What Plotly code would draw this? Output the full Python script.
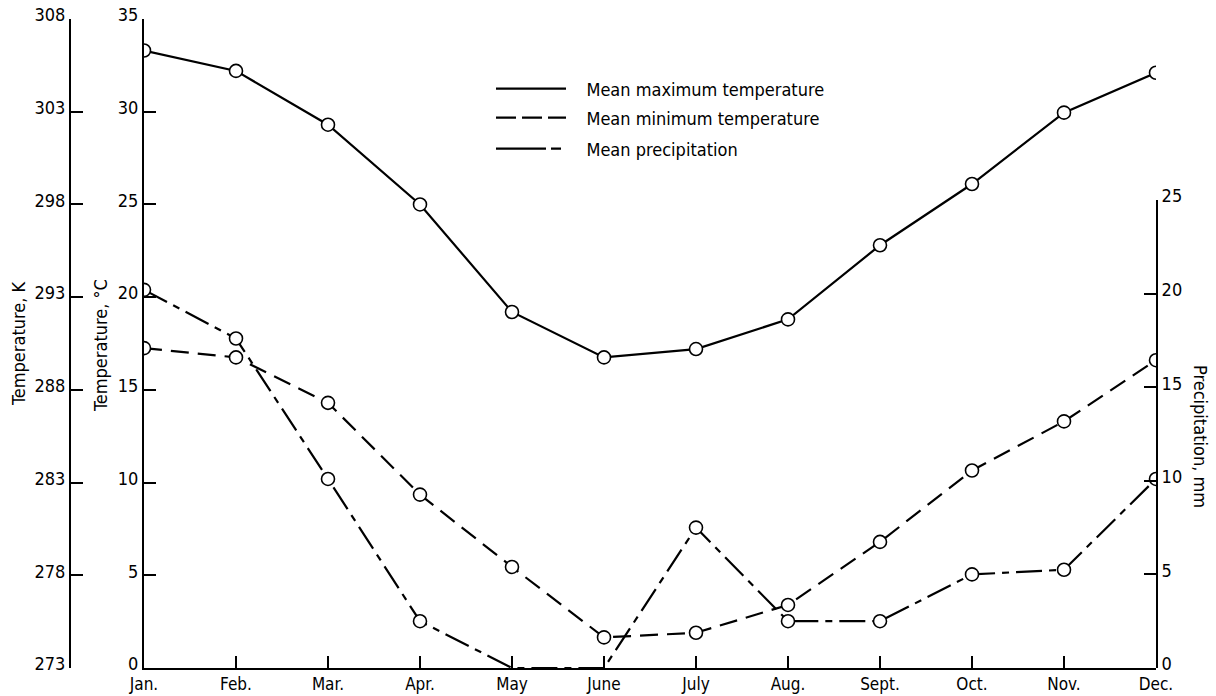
import plotly.graph_objects as go

months = ["Jan.", "Feb.", "Mar.", "Apr.", "May", "June", "July", "Aug.", "Sept.", "Oct.", "Nov.", "Dec."]
max_temp_c = [33.3, 32.2, 29.3, 25.0, 19.2, 16.75, 17.2, 18.8, 22.8, 26.1, 29.95, 32.1]
min_temp_c = [17.25, 16.75, 14.3, 9.35, 5.45, 1.65, 1.9, 3.4, 6.8, 10.65, 13.3, 16.6]
precip_mm = [20.2, 17.6, 10.1, 2.5, 0.0, 0.0, 7.5, 2.5, 2.5, 5.0, 5.25, 10.1]

celsius_ticks = [0, 5, 10, 15, 20, 25, 30, 35]
kelvin_ticks = [273, 278, 283, 288, 293, 298, 303, 308]
precip_ticks = [0, 5, 10, 15, 20, 25]

FONT = "DejaVu Sans Condensed, Liberation Sans Narrow, sans-serif"
FS = 18
W, H = 1216, 696
ML, MR, MT, MB = 60, 60, 19, 28
PW = W - ML - MR
PH = H - MT - MB


def px_x(p):
    return (p - ML) / PW


def px_y(p):
    return (H - MB - p) / PH


marker = dict(symbol="circle", size=13, color="white", line=dict(color="black", width=1.6))
fig = go.Figure()

fig.add_trace(go.Scatter(x=months, y=max_temp_c, mode="lines+markers", yaxis="y",
                         line=dict(color="black", width=2.2, dash="solid"),
                         marker=marker, showlegend=False))
fig.add_trace(go.Scatter(x=months, y=min_temp_c, mode="lines+markers", yaxis="y",
                         line=dict(color="black", width=2.2, dash="18px,9px"),
                         marker=marker, showlegend=False))
pm = dict(symbol="circle", color="white", line=dict(color="black", width=1.6),
          size=[13 if v > 0 else 0 for v in precip_mm], opacity=1)
fig.add_trace(go.Scatter(x=months, y=precip_mm, mode="lines+markers", yaxis="y3",
                         line=dict(color="black", width=2.2, dash="26px,7px,7px,7px"),
                         marker=pm, showlegend=False))

# dummy trace to make the kelvin axis render
fig.add_trace(go.Scatter(x=[None], y=[None], yaxis="y2", showlegend=False))

NB = "\u00a0\u00a0\u00a0"
legend_items = [
    ("Mean maximum temperature", "solid", "legend", 89),
    ("Mean minimum temperature", "20px,6px", "legend2", 118),
    ("Mean precipitation", "50px,5px,10px,5px", "legend3", 149),
]
for name, dash, lg, _ in legend_items:
    fig.add_trace(go.Scatter(x=[None], y=[None], mode="lines", name=NB + name, legend=lg,
                             line=dict(color="black", width=2.2, dash=dash)))

legend_layout = {}
for name, dash, lg, ypix in legend_items:
    legend_layout[lg] = dict(x=px_x(491), y=px_y(ypix), xanchor="left", yanchor="middle",
                             bgcolor="rgba(0,0,0,0)", itemwidth=70,
                             font=dict(family=FONT, size=FS, color="black"))

axis_common = dict(showgrid=False, zeroline=False, showline=True, linecolor="black",
                   linewidth=2, ticks="inside", ticklen=12, tickwidth=1.5,
                   tickcolor="black", automargin=False,
                   tickfont=dict(family=FONT, size=FS, color="black"))
x_axis_style = dict(axis_common)
x_axis_style["tickfont"] = dict(family=FONT, size=17, color="black")

fig.update_layout(
    width=W, height=H,
    margin=dict(l=ML, r=MR, t=MT, b=MB, autoexpand=False),
    paper_bgcolor="white", plot_bgcolor="rgba(0,0,0,0)",
    font=dict(family=FONT, size=FS, color="black"),
    xaxis=dict(domain=[px_x(144), 1], range=[0, 11], type="category", anchor="y",
               ticklabelstandoff=0, **x_axis_style),
    yaxis=dict(range=[0, 35], tickvals=celsius_ticks, anchor="x", side="left",
               ticklabelshift=-4, **axis_common),
    yaxis2=dict(range=[273, 308], tickvals=kelvin_ticks, overlaying="y", anchor="free",
                position=px_x(70), side="left", ticklabelshift=-4, **axis_common),
    yaxis3=dict(range=[0, 25], tickvals=precip_ticks, domain=[0, px_y(200)],
                anchor="x", side="right", ticklabelshift=-4, **axis_common),
    **legend_layout,
)

ann_font = dict(family=FONT, size=FS, color="black")
fig.add_annotation(text="Temperature, K", xref="paper", yref="paper", x=px_x(18), y=px_y(344),
                   xanchor="center", yanchor="middle",
                   textangle=-90, showarrow=False, font=ann_font)
fig.add_annotation(text="Temperature, °C", xref="paper", yref="paper", x=px_x(100), y=px_y(346),
                   xanchor="center", yanchor="middle",
                   textangle=-90, showarrow=False, font=ann_font)
fig.add_annotation(text="Precipitation, mm", xref="paper", yref="paper", x=px_x(1201), y=px_y(436),
                   xanchor="center", yanchor="middle",
                   textangle=90, showarrow=False, font=ann_font)

fig.write_html("out.html", config={"displayModeBar": False},
               post_script="document.body.style.margin='0px';document.body.style.padding='0px';")
